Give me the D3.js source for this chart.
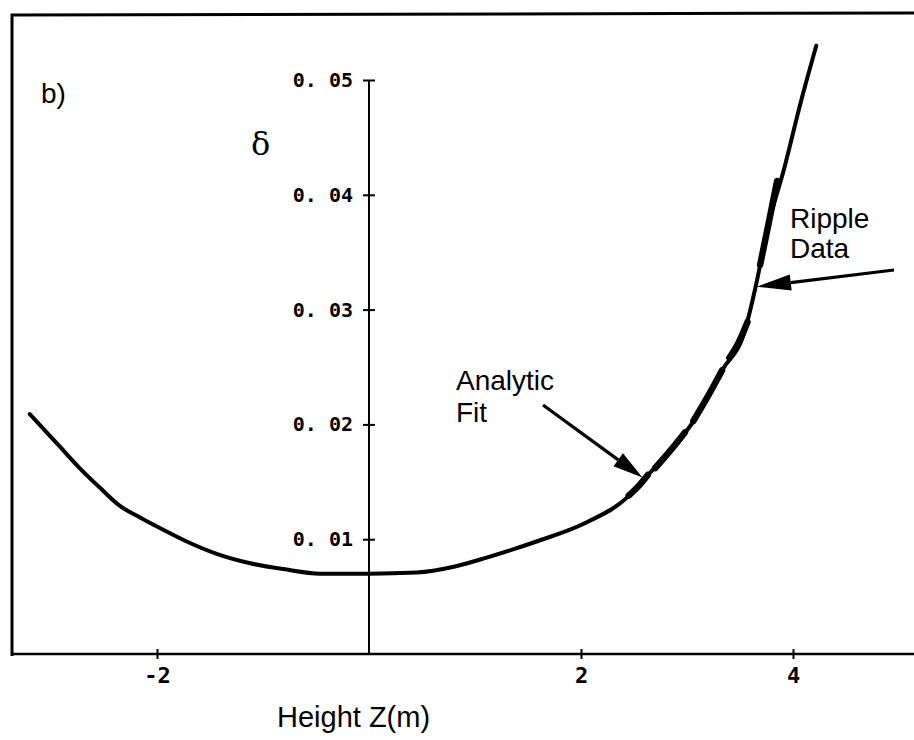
<!DOCTYPE html>
<html>
<head>
<meta charset="utf-8">
<script src="https://cdn.jsdelivr.net/npm/d3@7"></script>
<style>
  html, body { margin: 0; padding: 0; background: #fff; }
  svg { display: block; }
  .lbl { font-family: "Liberation Sans", Arial, Helvetica, sans-serif; fill: #000; }
  .tick text { font-family: "DejaVu Sans Mono", "Liberation Mono", monospace; fill: #000; font-weight: bold; }
</style>
</head>
<body>
<svg id="chart" width="914" height="740"></svg>
<script>
// Analytic fit of delta versus height Z (m)
const fitZ = [-3.20, -3.08, -2.92, -2.73, -2.54, -2.35, -2.16, -2.00, -1.72, -1.43, -1.12, -0.81, -0.46, 0.00, 0.45, 0.80, 1.11, 1.58, 2.06, 2.43, 2.59, 2.85, 3.07, 3.23, 3.33, 3.54, 3.65, 3.75, 3.92, 4.08, 4.22];
const fitDelta = [0.0209, 0.0197, 0.0181, 0.0162, 0.0145, 0.0129, 0.0119, 0.0111, 0.0098, 0.0087, 0.0079, 0.0074, 0.0070, 0.0070, 0.0071, 0.0076, 0.0084, 0.0098, 0.0115, 0.0136, 0.0152, 0.0178, 0.0204, 0.0230, 0.0247, 0.0280, 0.0321, 0.0367, 0.0424, 0.0483, 0.0530];

// Ripple measurements (segments separated by null)
const rippleZ = [2.45, 2.54, 2.63, null, 2.70, 2.85, 2.98, null, 3.06, 3.20, 3.33, null, 3.40, 3.48, 3.57, null, 3.69, 3.77, 3.85];
const rippleDelta = [0.0138, 0.0146, 0.0156, null, 0.0162, 0.0178, 0.0193, null, 0.0203, 0.0225, 0.0247, null, 0.0258, 0.0270, 0.0289, null, 0.0339, 0.0375, 0.0412];

const xTicks = [-2, 2, 4];
const yTicks = [0.01, 0.02, 0.03, 0.04, 0.05];

const svg = d3.select("#chart");

const x = d3.scaleLinear().domain([-2, 4]).range([157, 793]);
const y = d3.scaleLinear().domain([0, 0.05]).range([654, 80]);

// outer frame (left and top edges)
svg.append("path")
  .attr("d", "M12,656 L12,15 L914,13")
  .attr("fill", "none").attr("stroke", "#000").attr("stroke-width", 3);

// x axis across the full width
const xAxis = d3.axisBottom(x).tickValues(xTicks).tickSize(5).tickFormat(d3.format("d"));
const gx = svg.append("g").attr("transform", `translate(0,${y(0)})`).call(xAxis);
gx.select(".domain").remove();
gx.append("line")
  .attr("x1", 12).attr("x2", 914).attr("y1", 0).attr("y2", 0)
  .attr("stroke", "#000").attr("stroke-width", 2.5);
gx.selectAll(".tick line").attr("y1", -5).attr("y2", 5).attr("stroke-width", 2);
gx.selectAll(".tick text").attr("y", 13).attr("font-size", 22).text(d => d < 0 ? "-" + Math.abs(d) : d);

// y axis at Z = 0
const yAxis = d3.axisLeft(y).tickValues(yTicks).tickSize(6)
  .tickFormat(d => d3.format(".2f")(d).replace(".", ". "));
const gy = svg.append("g").attr("transform", `translate(${x(0)},0)`).call(yAxis);
gy.select(".domain").remove();
gy.append("line")
  .attr("x1", 0).attr("x2", 0).attr("y1", y(0.05)).attr("y2", y(0))
  .attr("stroke", "#000").attr("stroke-width", 2);
gy.selectAll(".tick line").attr("x1", -6).attr("x2", 6).attr("stroke-width", 2);
gy.selectAll(".tick text").attr("x", -16).attr("font-size", 20);

// fitted curve
const fitPts = fitZ.map((z, i) => [z, fitDelta[i]]);
const line = d3.line().x(d => x(d[0])).y(d => y(d[1])).curve(d3.curveMonotoneX);
svg.append("path")
  .attr("d", line(fitPts))
  .attr("fill", "none").attr("stroke", "#000").attr("stroke-width", 4)
  .attr("stroke-linejoin", "round").attr("stroke-linecap", "round");

// ripple data overlay
const ripplePts = rippleZ.map((z, i) => [z, rippleDelta[i]]);
const rippleLine = d3.line()
  .defined(d => d[0] !== null)
  .x(d => x(d[0])).y(d => y(d[1])).curve(d3.curveMonotoneX);
svg.append("path")
  .attr("d", rippleLine(ripplePts))
  .attr("fill", "none").attr("stroke", "#000").attr("stroke-width", 6.5)
  .attr("stroke-linecap", "round");

// arrows
function arrow(x1, y1, x2, y2, headLen, headHalf) {
  const ang = Math.atan2(y2 - y1, x2 - x1);
  const bx = x2 - headLen * Math.cos(ang), by = y2 - headLen * Math.sin(ang);
  svg.append("line")
    .attr("x1", x1).attr("y1", y1).attr("x2", bx).attr("y2", by)
    .attr("stroke", "#000").attr("stroke-width", 3.2);
  const px = -Math.sin(ang), py = Math.cos(ang);
  svg.append("path")
    .attr("d", `M${x2},${y2} L${bx + px * headHalf},${by + py * headHalf} L${bx - px * headHalf},${by - py * headHalf} Z`)
    .attr("fill", "#000");
}
arrow(543, 405, x(2.58), y(0.0152) - 2, 30, 8);
arrow(894, 270, x(3.66), y(0.0320), 34, 8);

// labels
svg.append("text").attr("class", "lbl").attr("x", 41).attr("y", 103).attr("font-size", 28).text("b)");
svg.append("text").attr("x", 251).attr("y", 155)
  .attr("font-family", "'DejaVu Serif', 'Liberation Serif', serif").attr("font-size", 32).text("δ");
svg.append("text").attr("class", "lbl").attr("x", 277).attr("y", 727).attr("font-size", 29).text("Height Z(m)");
svg.append("text").attr("class", "lbl").attr("x", 456).attr("y", 390).attr("font-size", 28).text("Analytic");
svg.append("text").attr("class", "lbl").attr("x", 456).attr("y", 422).attr("font-size", 28).text("Fit");
svg.append("text").attr("class", "lbl").attr("x", 790).attr("y", 228).attr("font-size", 28).text("Ripple");
svg.append("text").attr("class", "lbl").attr("x", 790).attr("y", 258).attr("font-size", 28).text("Data");
</script>
</body>
</html>
